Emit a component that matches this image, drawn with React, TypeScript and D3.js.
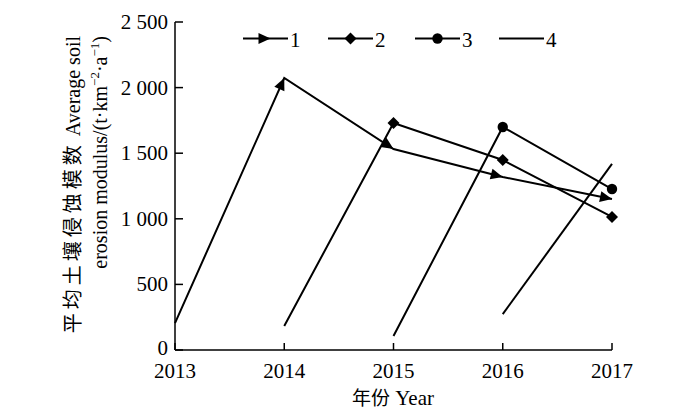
import React from "react";
import * as d3 from "d3";

// ---- data ----
const s1Years = [2013, 2014, 2015, 2016, 2017];
const s1Values = [205, 2073, 1532, 1319, 1151];
const s2Years = [2014, 2015, 2016, 2017];
const s2Values = [183, 1730, 1448, 1014];
const s3Years = [2015, 2016, 2017];
const s3Values = [107, 1700, 1227];
const s4Years = [2016, 2017];
const s4Values = [274, 1418];

const seriesNames = ["1", "2", "3", "4"];
const markerTypes = ["arrow", "diamond", "circle", "none"];
const xTickValues = [2013, 2014, 2015, 2016, 2017];
const xTickLabels = ["2013", "2014", "2015", "2016", "2017"];
const yTickValues = [0, 500, 1000, 1500, 2000, 2500];
const yTickLabels = ["0", "500", "1 000", "1 500", "2 000", "2 500"];

const W = 700;
const H = 413;
const serif = "'Liberation Serif', 'DejaVu Serif', serif";
const cjk = "'Noto Sans CJK SC', sans-serif";

export default function App() {
  const x = d3.scaleLinear().domain([2013, 2017]).range([175, 612]);
  const y = d3.scaleLinear().domain([0, 2500]).range([350, 22]);

  const series = [
    { years: s1Years, values: s1Values },
    { years: s2Years, values: s2Values },
    { years: s3Years, values: s3Values },
    { years: s4Years, values: s4Values },
  ];

  const line = d3
    .line<[number, number]>()
    .x((d) => x(d[0]))
    .y((d) => y(d[1]));

  const arrowPath = (tx: number, ty: number, angle: number) => {
    // triangle with tip at (tx,ty) pointing along angle
    const L = 12;
    const hw = 5.5;
    const c = Math.cos(angle);
    const s = Math.sin(angle);
    const bx = tx - L * c;
    const by = ty - L * s;
    const p1 = [bx - hw * s, by + hw * c];
    const p2 = [bx + hw * s, by - hw * c];
    return `M${tx},${ty}L${p1[0]},${p1[1]}L${p2[0]},${p2[1]}Z`;
  };

  const drawMarker = (type: string, px: number, py: number, angle: number, key: string) => {
    if (type === "arrow") return <path key={key} d={arrowPath(px, py, angle)} fill="#000" />;
    if (type === "diamond") {
      const r = 6;
      return (
        <path
          key={key}
          d={`M${px},${py - r}L${px + r},${py}L${px},${py + r}L${px - r},${py}Z`}
          fill="#000"
        />
      );
    }
    if (type === "circle") return <circle key={key} cx={px} cy={py} r={5.2} fill="#000" />;
    return null;
  };

  const legendX = [243, 328, 415, 499];
  const legendY = 38.5;
  const legendLen = 45;

  return (
    <svg
      width={W}
      height={H}
      style={{ position: "absolute", left: 0, top: 0, background: "#fff" }}
    >
      <rect x={0} y={0} width={W} height={H} fill="#fff" />
      {/* axes */}
      <line x1={175} y1={y(0)} x2={x(2017)} y2={y(0)} stroke="#000" strokeWidth={1.5} />
      <line x1={175} y1={y(0)} x2={175} y2={y(2500)} stroke="#000" strokeWidth={1.5} />
      {xTickValues.map((v, i) => (
        <g key={"xt" + v}>
          <line x1={x(v)} x2={x(v)} y1={y(0)} y2={y(0) - 7} stroke="#000" strokeWidth={1.5} />
          <text
            x={x(v)}
            y={378}
            textAnchor="middle"
            fontFamily={serif}
            fontSize={21}
            fill="#000"
          >
            {xTickLabels[i]}
          </text>
        </g>
      ))}
      {yTickValues.map((v, i) => (
        <g key={"yt" + v}>
          <line x1={175} x2={183} y1={y(v)} y2={y(v)} stroke="#000" strokeWidth={1.5} />
          <text
            x={168}
            y={y(v) + (v === 0 ? 5 : 7)}
            textAnchor="end"
            fontFamily={serif}
            fontSize={21}
            fill="#000"
          >
            {yTickLabels[i]}
          </text>
        </g>
      ))}
      {/* axis titles */}
      <text x={393} y={405} textAnchor="middle" fill="#000" fontSize={20}>
        <tspan fontFamily={cjk} fontSize={19}>年份</tspan>
        <tspan fontFamily={serif} fontSize={21}> Year</tspan>
      </text>
      <g transform="translate(80,36) rotate(-90)">
        <text x={0} y={0} textAnchor="end" fill="#000">
          <tspan fontFamily={cjk} fontSize={20} letterSpacing={4}>平均土壤侵蚀模数</tspan>
          <tspan fontFamily={serif} fontSize={20}> Average soil</tspan>
        </text>
      </g>
      <g transform="translate(107,36) rotate(-90)">
        <text x={0} y={0} textAnchor="end" fill="#000" fontFamily={serif} fontSize={20}>
          erosion modulus/(t·km<tspan fontSize={13} dy={-8}>−2</tspan>
          <tspan dy={8}>·a</tspan>
          <tspan fontSize={13} dy={-8}>−1</tspan>
          <tspan dy={8}>)</tspan>
        </text>
      </g>
      {/* series */}
      {series.map((s, si) => {
        const pts: [number, number][] = s.years.map((yr, j) => [yr, s.values[j]]);
        return (
          <g key={"s" + si}>
            <path d={line(pts) || ""} fill="none" stroke="#000" strokeWidth={2} />
            {pts.slice(1).map((p, j) => {
              const prev = pts[j];
              const px = x(p[0]);
              const py = y(p[1]);
              const a = Math.atan2(py - y(prev[1]), px - x(prev[0]));
              return drawMarker(markerTypes[si], px, py, a, `m${si}-${j}`);
            })}
          </g>
        );
      })}
      {/* legend */}
      {seriesNames.map((name, i) => {
        const lx = legendX[i];
        const cx = lx + legendLen / 2;
        return (
          <g key={"lg" + i}>
            <line
              x1={lx}
              x2={lx + legendLen}
              y1={legendY}
              y2={legendY}
              stroke="#000"
              strokeWidth={2}
            />
            {markerTypes[i] === "arrow"
              ? drawMarker("arrow", cx + 5, legendY, 0, "lm" + i)
              : drawMarker(markerTypes[i], cx, legendY, 0, "lm" + i)}
            <text
              x={lx + legendLen + 2}
              y={legendY + 8}
              fontFamily={serif}
              fontSize={21}
              fill="#000"
            >
              {name}
            </text>
          </g>
        );
      })}
    </svg>
  );
}
